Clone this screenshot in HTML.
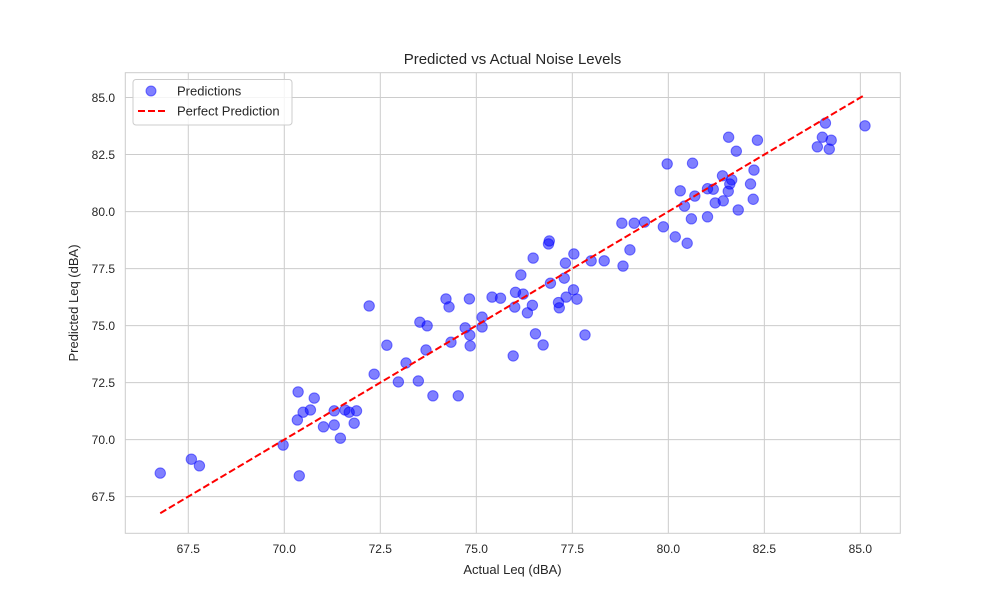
<!DOCTYPE html>
<html><head><meta charset="utf-8"><style>
body{margin:0;background:#fff;}
svg{display:block;font-family:"Liberation Sans",Arial,sans-serif;}
</style></head><body>
<svg id="chart" width="1000" height="600">
<rect width="1000" height="600" fill="#fff"/>
<g id="grid"></g>
<rect x="125.3" y="72.7" width="775" height="460.6" fill="none" stroke="#ccc" stroke-width="1"/>
<g id="xticks"></g>
<g id="yticks"></g>
<g id="points"></g>
<path id="perfect" fill="none" stroke="#ff0000" stroke-width="2" stroke-dasharray="7,3"/>
<text x="512.5" y="64" text-anchor="middle" font-size="15" fill="#262626">Predicted vs Actual Noise Levels</text>
<text x="512.5" y="574" text-anchor="middle" font-size="13" fill="#262626">Actual Leq (dBA)</text>
<text x="0" y="0" transform="translate(78,303) rotate(-90)" text-anchor="middle" font-size="13" fill="#262626">Predicted Leq (dBA)</text>
<g>
<rect x="133" y="79.5" width="159" height="45.5" rx="3" fill="#fff" fill-opacity="0.8" stroke="#ccc"/>
<circle cx="151" cy="91" r="5" fill="rgba(0,0,255,0.5)" stroke="rgba(0,0,255,0.5)"/>
<text x="177" y="95.5" font-size="13" fill="#262626">Predictions</text>
<line x1="138" y1="111" x2="166" y2="111" stroke="#ff0000" stroke-width="2" stroke-dasharray="7,3"/>
<text x="177" y="115.5" font-size="13" fill="#262626">Perfect Prediction</text>
</g>
</svg>
<script>
const actual=[66.77,67.58,67.79,69.97,70.39,70.36,70.34,70.49,70.68,70.78,71.02,71.30,71.30,71.46,71.58,71.69,71.88,71.82,72.21,72.34,72.67,72.97,73.17,73.49,73.53,73.72,73.69,73.87,74.21,74.29,74.34,74.53,74.82,74.71,74.83,74.84,75.15,75.15,75.41,75.63,75.96,76.00,76.02,76.22,76.16,76.33,76.46,76.48,76.54,76.74,76.88,76.90,76.93,77.14,77.16,77.29,77.32,77.34,77.53,77.54,77.62,77.83,77.99,78.33,78.79,78.82,79.00,79.11,79.38,79.87,79.97,80.18,80.31,80.42,80.49,80.63,80.60,80.69,81.02,81.02,81.17,81.22,81.43,81.41,81.57,81.56,81.60,81.65,81.77,81.82,82.14,82.21,82.23,82.32,83.88,84.01,84.09,84.24,84.19,85.12];
const predicted=[68.53,69.14,68.85,69.76,68.41,72.09,70.86,71.20,71.30,71.82,70.56,71.26,70.64,70.06,71.30,71.20,71.26,70.72,75.86,72.87,74.14,72.53,73.36,72.57,75.15,74.99,73.93,71.92,76.17,75.82,74.27,71.92,76.17,74.90,74.58,74.11,75.37,74.94,76.25,76.20,73.67,75.81,76.46,76.38,77.22,75.56,75.89,77.96,74.64,74.15,78.58,78.71,76.86,76.01,75.78,77.08,77.74,76.25,76.57,78.14,76.16,74.59,77.84,77.84,79.49,77.61,78.32,79.49,79.54,79.33,82.09,78.89,80.91,80.24,78.61,82.12,79.68,80.68,79.77,81.00,80.98,80.38,80.47,81.57,83.26,80.89,81.21,81.39,82.65,80.07,81.21,80.54,81.82,83.13,82.84,83.26,83.88,83.13,82.74,83.76];
const xTicks=[67.5,70.0,72.5,75.0,77.5,80.0,82.5,85.0];
const yTicks=[67.5,70.0,72.5,75.0,77.5,80.0,82.5,85.0];
const X0=125.3,X1=900.3,Y0=72.7,Y1=533.3;
const xMin=65.86,xMax=86.04,yMin=65.89,yMax=86.09;
function sx(v){return X0+(v-xMin)/(xMax-xMin)*(X1-X0);}
function sy(v){return Y1-(v-yMin)/(yMax-yMin)*(Y1-Y0);}
const NS="http://www.w3.org/2000/svg";
const grid=document.getElementById('grid'),xt=document.getElementById('xticks'),yt=document.getElementById('yticks'),pts=document.getElementById('points');
xTicks.forEach(t=>{
  const l=document.createElementNS(NS,'line');
  l.setAttribute('x1',sx(t));l.setAttribute('x2',sx(t));l.setAttribute('y1',Y0);l.setAttribute('y2',Y1);
  l.setAttribute('stroke','#ccc');l.setAttribute('stroke-width','1');
  
  
  grid.appendChild(l);
  const tx=document.createElementNS(NS,'text');
  tx.setAttribute('x',sx(t));tx.setAttribute('y',553);tx.setAttribute('text-anchor','middle');
  tx.setAttribute('font-size','12');tx.setAttribute('fill','#262626');tx.textContent=t.toFixed(1);
  
  
  xt.appendChild(tx);
});
yTicks.forEach(t=>{
  const l=document.createElementNS(NS,'line');
  l.setAttribute('x1',X0);l.setAttribute('x2',X1);l.setAttribute('y1',sy(t));l.setAttribute('y2',sy(t));
  l.setAttribute('stroke','#ccc');l.setAttribute('stroke-width','1');
  
  
  grid.appendChild(l);
  const tx=document.createElementNS(NS,'text');
  tx.setAttribute('x',115);tx.setAttribute('y',sy(t)+4.5);tx.setAttribute('text-anchor','end');
  tx.setAttribute('font-size','12');tx.setAttribute('fill','#262626');tx.textContent=t.toFixed(1);
  
  
  yt.appendChild(tx);
});
actual.forEach((a,i)=>{
  const c=document.createElementNS(NS,'circle');
  c.setAttribute('cx',sx(a));c.setAttribute('cy',sy(predicted[i]));c.setAttribute('r','5.2');
  c.setAttribute('fill','rgba(0,0,255,0.5)');c.setAttribute('stroke','rgba(0,0,255,0.5)');c.setAttribute('stroke-width','1');
  
  
  pts.appendChild(c);
});
const mn=Math.min(...actual),mx=Math.max(...actual);
document.getElementById('perfect').setAttribute('d','M'+sx(mn)+','+sy(mn)+' L'+sx(mx)+','+sy(mx));
</script>
</body></html>
